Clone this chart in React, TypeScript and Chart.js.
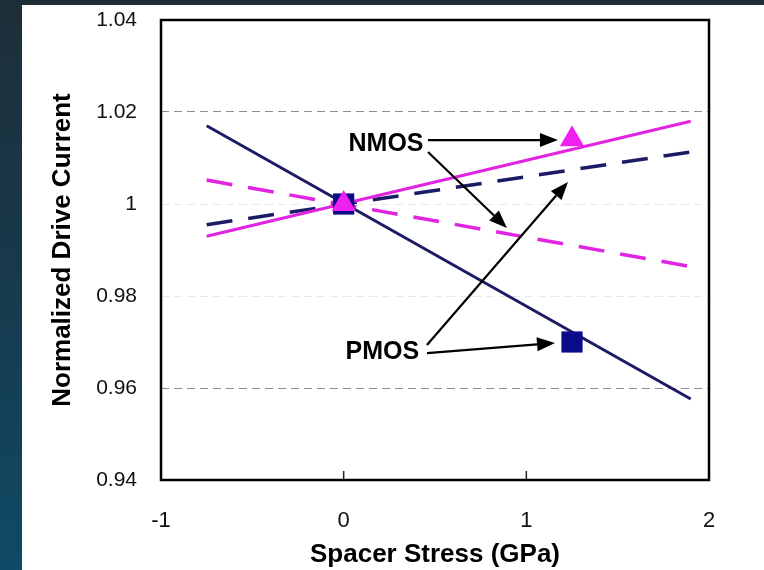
import React, { useEffect, useRef } from 'react';
import { Chart, registerables } from 'chart.js';

Chart.register(...registerables);

// ---- data ----
const lineStress = [-0.75, 1.9];
const pmosSolid = [1.017, 0.9576];
const nmosSolid = [0.993, 1.018];
const pmosDashed = [0.9955, 1.0113];
const nmosDashed = [1.0052, 0.9864];
const markerStress = [0, 1.25];
const pmosMarkers = [1.0, 0.97];
const nmosMarkers = [1.0, 1.0141];

const xTicks = [-1, 0, 1, 2];
const xTickLabels = ['-1', '0', '1', '2'];
const yTicks = [0.94, 0.96, 0.98, 1.0, 1.02, 1.04];
const yTickLabels = ['0.94', '0.96', '0.98', '1', '1.02', '1.04'];
const strongGrid = [0.96, 1.02];
const innerXTicks = [0, 1];

const noteTexts = ['NMOS', 'PMOS'];
const noteX = [0.232, 0.212];
const noteY = [1.013, 0.9678];
// arrows: [fromX, fromY, toX, toY]
const arrowList = [
  [0.4617, 1.0139, 1.173, 1.0139],
  [0.4617, 1.0113, 0.894, 0.9948],
  [0.456, 0.9676, 1.157, 0.9698],
  [0.456, 0.96935, 1.228, 1.0048],
];

const FONT = "'Liberation Sans', Arial, sans-serif";
const NAVY = '#1c1c66';
const MAGENTA = '#e024e0';

const pts = (xs: number[], ys: number[]) => xs.map((x, i) => ({ x, y: ys[i] }));
const idxOf = (arr: number[], v: number) => arr.findIndex((t) => Math.abs(t - v) < 1e-6);

const decorPlugin = {
  id: 'decor',
  afterDatasetsDraw(chart: any) {
    const { ctx, chartArea, scales } = chart;
    const xs = scales.x;
    const ys = scales.y;
    ctx.save();
    // arrows
    ctx.strokeStyle = '#000';
    ctx.fillStyle = '#000';
    ctx.lineWidth = 2.2;
    arrowList.forEach((a) => {
      const x1 = xs.getPixelForValue(a[0]);
      const y1 = ys.getPixelForValue(a[1]);
      const x2 = xs.getPixelForValue(a[2]);
      const y2 = ys.getPixelForValue(a[3]);
      const ang = Math.atan2(y2 - y1, x2 - x1);
      const hl = 18;
      const hw = 7;
      const bx = x2 - hl * Math.cos(ang);
      const by = y2 - hl * Math.sin(ang);
      ctx.beginPath();
      ctx.moveTo(x1, y1);
      ctx.lineTo(bx, by);
      ctx.stroke();
      ctx.beginPath();
      ctx.moveTo(x2, y2);
      ctx.lineTo(bx + hw * Math.sin(ang), by - hw * Math.cos(ang));
      ctx.lineTo(bx - hw * Math.sin(ang), by + hw * Math.cos(ang));
      ctx.closePath();
      ctx.fill();
    });
    // notes
    ctx.font = `bold 25px ${FONT}`;
    ctx.textAlign = 'center';
    ctx.textBaseline = 'middle';
    noteTexts.forEach((t, i) => {
      ctx.fillText(t, xs.getPixelForValue(noteX[i]), ys.getPixelForValue(noteY[i]));
    });
    // inner x ticks
    ctx.lineWidth = 1.5;
    ctx.strokeStyle = '#222';
    innerXTicks.forEach((v) => {
      const px = xs.getPixelForValue(v);
      ctx.beginPath();
      ctx.moveTo(px, chartArea.bottom);
      ctx.lineTo(px, chartArea.bottom - 9);
      ctx.stroke();
    });
    // frame
    ctx.lineWidth = 2.5;
    ctx.strokeStyle = '#000';
    ctx.strokeRect(chartArea.left, chartArea.top, chartArea.right - chartArea.left, chartArea.bottom - chartArea.top);
    ctx.restore();
  },
};

export default function App() {
  const ref = useRef<HTMLCanvasElement>(null);
  useEffect(() => {
    if (!ref.current) return;
    const chart = new Chart(ref.current, {
      type: 'scatter',
      data: {
        datasets: [
          {
            label: 'NMOS markers',
            data: pts(markerStress, nmosMarkers),
            pointStyle: 'triangle',
            pointRadius: 14,
            backgroundColor: '#f020f0',
            borderColor: '#f020f0',
            borderWidth: 0,
            showLine: false,
          },
          {
            label: 'PMOS markers',
            data: pts(markerStress, pmosMarkers),
            pointStyle: 'rect',
            pointRadius: 15,
            backgroundColor: '#0c0c8a',
            borderColor: '#0c0c8a',
            borderWidth: 0,
            showLine: false,
          },
          {
            label: 'NMOS solid',
            data: pts(lineStress, nmosSolid),
            showLine: true,
            borderColor: MAGENTA,
            borderWidth: 3.2,
            pointRadius: 0,
          },
          {
            label: 'PMOS dashed',
            data: pts(lineStress, pmosDashed),
            showLine: true,
            borderColor: NAVY,
            borderWidth: 3.5,
            borderDash: [26, 16],
            pointRadius: 0,
          },
          {
            label: 'NMOS dashed',
            data: pts(lineStress, nmosDashed),
            showLine: true,
            borderColor: MAGENTA,
            borderWidth: 3.5,
            borderDash: [26, 16],
            pointRadius: 0,
          },
          {
            label: 'PMOS solid',
            data: pts(lineStress, pmosSolid),
            showLine: true,
            borderColor: NAVY,
            borderWidth: 3,
            pointRadius: 0,
          },
        ],
      },
      options: {
        animation: false,
        responsive: false,
        events: [],
        layout: { padding: { left: 0, right: 55, top: 20, bottom: 0 } },
        plugins: { legend: { display: false }, tooltip: { enabled: false } },
        scales: {
          x: {
            type: 'linear',
            min: -1,
            max: 2,
            afterFit: (s: any) => { s.height = 90; },
            ticks: {
              stepSize: 1,
              padding: 0,
              color: '#111',
              font: { family: FONT, size: 22 },
              callback: (v: any) => {
                const i = idxOf(xTicks, Number(v));
                return i >= 0 ? xTickLabels[i] : '';
              },
            },
            grid: {
              display: true,
              drawOnChartArea: false,
              drawTicks: true,
              tickLength: 28,
              tickColor: 'rgba(0,0,0,0)',
            },
            border: { display: false },
            title: {
              display: true,
              text: 'Spacer Stress (GPa)',
              color: '#000',
              font: { family: FONT, size: 26, weight: 'bold' },
              padding: { top: 0, bottom: 0 },
            },
          },
          y: {
            type: 'linear',
            min: 0.94,
            max: 1.04,
            afterFit: (s: any) => { s.width = 161; },
            ticks: {
              stepSize: 0.02,
              padding: 0,
              color: '#111',
              font: { family: FONT, size: 21 },
              callback: (v: any) => {
                const i = idxOf(yTicks, Number(v));
                return i >= 0 ? yTickLabels[i] : '';
              },
            },
            grid: {
              drawTicks: true,
              tickLength: 24,
              tickColor: 'rgba(0,0,0,0)',
              lineWidth: 1,
              color: (c: any) => {
                const v = c.tick ? c.tick.value : 0;
                return idxOf(strongGrid, v) >= 0 ? '#8f8f8f' : '#e8e8e8';
              },
            },
            border: { display: false, dash: [8, 5] },
            title: {
              display: true,
              text: 'Normalized Drive Current',
              color: '#000',
              font: { family: FONT, size: 26, weight: 'bold' },
              padding: { top: 47, bottom: 0 },
            },
          },
        },
      },
      plugins: [decorPlugin],
    } as any);
    return () => chart.destroy();
  }, []);

  return (
    <div
      style={{
        position: 'fixed',
        left: 0,
        top: 0,
        width: 764,
        height: 570,
        background: 'linear-gradient(180deg, #1e2e39 0%, #173a4c 50%, #0f4a66 100%)',
      }}
    >
      <div style={{ position: 'absolute', left: 22, top: 5, right: 0, bottom: 0, background: '#fff' }} />
      <canvas ref={ref} width={764} height={570} style={{ position: 'absolute', left: 0, top: 0 }} />
    </div>
  );
}
